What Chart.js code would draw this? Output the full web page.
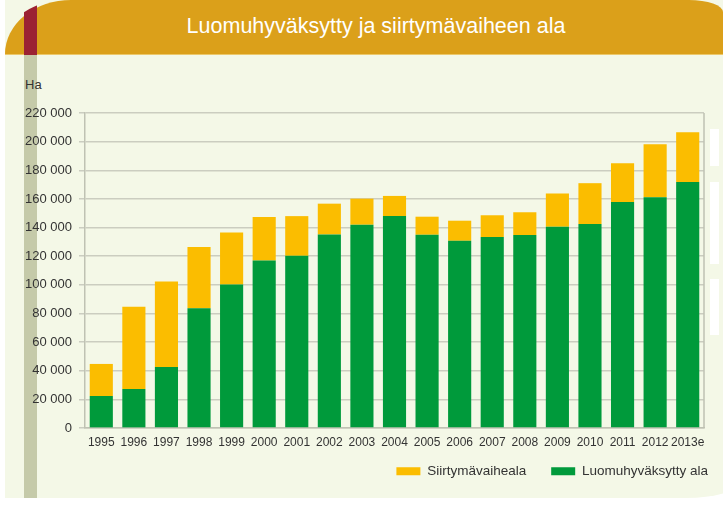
<!DOCTYPE html>
<html>
<head>
<meta charset="utf-8">
<script src="https://cdn.jsdelivr.net/npm/chart.js@4"></script>
<style>
  html, body { margin: 0; padding: 0; background: #fff; }
  #wrap { position: relative; width: 723px; height: 511px; overflow: hidden; font-family: "Liberation Sans", Arial, sans-serif; }
  #panel { position: absolute; left: 5px; top: 0; width: 740px; height: 498px; background: #f4f8e7; border-bottom-right-radius: 60px 20px; }
  #header { position: absolute; left: 5px; top: 0; width: 718px; height: 54px; background: #dba01a;
            border-top-left-radius: 66px 54px; border-top-right-radius: 34px 12px; border-bottom: 1px solid #ecc86a; }
  #redStrip { position: absolute; left: 24px; top: 0; width: 13px; height: 55px; background: #9b2233; }
  #clipCorner { position: absolute; left: 0; top: 0; width: 723px; height: 55px; overflow: hidden; border-top-left-radius: 66px 54px; }
  #grayStrip { position: absolute; left: 24px; top: 55px; width: 13px; height: 443px; background: #c5caa9; }
  #title { position: absolute; left: 0; width: 752px; top: 14px; text-align: center; color: #fff; font-size: 21.5px; }
  #ha { position: absolute; left: 25px; top: 77px; font-size: 13px; color: #333; }
  .wb { position: absolute; left: 710px; width: 9px; background: #fff; }
  canvas { position: absolute; left: 0; top: 0; }
</style>
</head>
<body>
<div id="wrap">
  <div id="panel"></div>
  <div id="header"></div>
  <div id="clipCorner"><div id="redStrip"></div></div>
  <div id="grayStrip"></div>
  <div id="title">Luomuhyväksytty ja siirtymävaiheen ala</div>
  <div id="ha">Ha</div>
  <div class="wb" style="top:129px;height:37px"></div>
  <div class="wb" style="top:182px;height:82px"></div>
  <div class="wb" style="top:279px;height:56px"></div>
  <canvas id="myChart" width="723" height="511"></canvas>
</div>
<script>
// years on x axis
const years = ["1995", "1996", "1997", "1998", "1999", "2000", "2001", "2002", "2003", "2004",
  "2005", "2006", "2007", "2008", "2009", "2010", "2011", "2012", "2013e"];
// certified organic area (ha), bottom of stack
const luomu = [22400, 27300, 42700, 83600, 100200, 117000, 120300, 135200, 142000, 148100,
  135000, 130800, 133400, 134800, 140600, 142500, 157900, 161200, 171900];
// area in conversion (ha), on top
const siirtyma = [22400, 57500, 59600, 42900, 36400, 30400, 27700, 21500, 18200, 14000,
  12600, 14000, 15200, 15900, 23200, 28500, 27100, 36900, 34600];
const yMax = 220000;
const yStep = 20000;

function fmt(n) {
    return String(n).replace(/\B(?=(\d{3})+(?!\d))/g, " ");
}

// right edge of the plot box, and legend nudged into place
const boxPlugin = {
    id: "box",
    afterLayout(chart) {
        const lg = chart.legend;
        if (!lg) return;
        lg.top -= 17;
        lg.bottom -= 17;
        lg.left += 29;
        lg.right += 29;
    },
    afterDraw(chart) {
        const a = chart.chartArea;
        const c = chart.ctx;
        c.save();
        c.strokeStyle = "#bfc2b3";
        c.lineWidth = 1.5;
        c.beginPath();
        c.moveTo(a.right, a.top);
        c.lineTo(a.right, a.bottom);
        c.stroke();
        c.restore();
    },
};

const ctx = document.getElementById("myChart").getContext("2d");
const chart = new Chart(ctx, {
    type: "bar",
    data: {
        labels: years,
        datasets: [
            {
                label: "Luomuhyväksytty ala",
                data: luomu,
                backgroundColor: "#009a3b",
                barPercentage: 0.71,
                categoryPercentage: 1,
            },
            {
                label: "Siirtymävaiheala",
                data: siirtyma,
                backgroundColor: "#fbbd00",
                barPercentage: 0.71,
                categoryPercentage: 1,
            },
        ],
    },
    options: {
        responsive: false,
        animation: false,
        layout: { padding: { left: 0, right: 19, top: 113, bottom: 6 } },
        plugins: {
            tooltip: { enabled: false },
            legend: {
                position: "bottom",
                align: "end",
                reverse: true,
                labels: {
                    boxWidth: 24,
                    boxHeight: 8,
                    padding: 25,
                    color: "#333",
                    font: { family: "Liberation Sans", size: 13.5 },
                },
            },
        },
        scales: {
            x: {
                stacked: true,
                grid: { display: false, drawTicks: false },
                border: { display: true, color: "#bfc2b3", width: 1.5 },
                ticks: { color: "#333", padding: 7, maxRotation: 0, autoSkip: false,
                    font: { family: "Liberation Sans", size: 12 } },
            },
            y: {
                stacked: true,
                min: 0,
                max: yMax,
                afterFit(scale) { scale.width = 85; },
                grid: { color: "#cbcdc0", lineWidth: 1.5, tickLength: 6 },
                border: { display: true, color: "#bfc2b3", width: 1.5 },
                ticks: { stepSize: yStep, padding: 7, color: "#333",
                    font: { family: "Liberation Sans", size: 13 },
                    callback: (v) => fmt(v) },
            },
        },
    },
    plugins: [boxPlugin],
});
</script>
</body>
</html>
